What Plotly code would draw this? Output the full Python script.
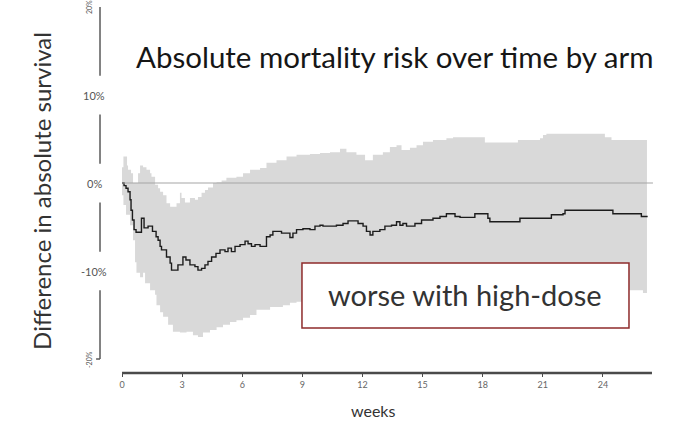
import plotly.graph_objects as go

# Difference in absolute survival (high-dose minus standard), step estimate by week
est_weeks = [0, 0.10, 0.20, 0.30, 0.40, 0.45, 0.52, 0.60, 0.70, 0.97, 1.10, 1.30, 1.52, 1.70,
             1.80, 1.90, 1.97, 2.22, 2.40, 2.47, 2.79, 3.04, 3.19, 3.39, 3.64, 3.79, 3.97,
             4.14, 4.29, 4.47, 4.69, 4.89, 5.14, 5.29, 5.46, 5.64, 5.89, 6.14, 6.29, 6.46,
             6.64, 6.89, 7.21, 7.39, 7.53, 7.96, 8.38, 8.53, 8.71, 9.03, 9.38, 9.63, 9.88,
             10.03, 10.70, 11.03, 11.28, 11.78, 12.03, 12.20, 12.38, 12.52, 12.87, 13.12,
             13.45, 13.70, 13.87, 14.02, 14.20, 14.62, 14.95, 15.52, 15.87, 16.19, 16.62,
             16.87, 17.61, 18.26, 18.36, 19.86, 21.43, 22.01, 22.11, 24.50, 25.92, 26.20]
est_diff = [0, -0.3, -0.6, -1.0, -1.9, -3.1, -4.2, -5.3, -5.6, -4.0, -5.1, -4.9, -5.5, -6.1,
            -6.5, -7.2, -7.6, -8.4, -9.1, -9.9, -9.3, -8.4, -8.75, -9.3, -9.5, -9.9, -9.7,
            -9.3, -8.9, -8.4, -8.0, -7.6, -7.8, -7.4, -7.8, -7.2, -7.0, -6.6, -6.9, -7.2,
            -7.0, -7.2, -6.1, -5.9, -5.5, -5.7, -6.2, -5.7, -5.3, -5.2, -5.3, -4.9, -4.8,
            -4.9, -4.8, -4.6, -4.3, -4.6, -4.9, -5.5, -5.9, -5.5, -5.3, -4.9,
            -4.8, -4.4, -4.8, -4.6, -4.9, -4.6, -4.2, -4.0, -3.8, -3.5, -3.8,
            -3.9, -3.5, -4.0, -4.4, -4.0, -3.6, -3.5, -3.1, -3.5, -3.8, -3.9]

# Upper confidence limit
upper_weeks = [0, 0.07, 0.25, 0.30, 0.45, 0.55, 0.80, 0.90, 1.05, 1.22, 1.40, 1.47, 1.65,
               1.80, 1.90, 2.05, 2.22, 2.40, 2.72, 2.89, 2.97, 3.14, 3.39, 3.64, 3.79, 3.97,
               4.14, 4.29, 4.54, 4.72, 4.97, 5.21, 5.71, 6.04, 6.39, 6.89, 7.21, 7.71, 8.21,
               8.71, 9.38, 9.88, 10.38, 10.88, 11.20, 11.70, 12.13, 12.52, 13.02, 13.37,
               13.70, 13.95, 14.37, 14.70, 15.02, 15.52, 16.19, 16.52, 18.11, 19.76, 20.86,
               21.01, 21.18, 24.10, 24.43, 26.20]
upper_diff = [1.8, 3.0, 2.0, 1.5, 1.1, 0.0, 1.1, 2.0, 1.8, 1.5, 1.1, 0.7, -0.2,
              -0.6, -1.0, -1.4, -2.3, -2.7, -2.3, -1.1, -1.7, -2.2, -1.7, -1.9, -1.6, -1.1,
              -0.8, -0.5, 0.0, 0.1, 0.3, 0.6, 0.7, 1.1, 1.5, 1.7, 2.3, 2.6, 3.0,
              3.2, 3.3, 3.4, 3.5, 3.9, 3.5, 3.2, 2.6, 3.2, 3.5, 4.1,
              4.3, 3.75, 4.0, 4.3, 4.7, 4.9, 5.1, 5.2, 4.6, 4.9, 5.1,
              5.45, 5.6, 5.2, 4.9, 4.9]

# Lower confidence limit
lower_weeks = [0, 0.07, 0.20, 0.40, 0.55, 0.65, 0.72, 0.90, 1.05, 1.15, 1.40, 1.65, 1.72,
               1.90, 2.05, 2.30, 2.54, 2.89, 3.22, 3.54, 3.79, 4.04, 4.39, 4.72, 5.04, 5.39,
               5.71, 6.04, 6.39, 6.71, 7.39, 8.03, 8.38, 8.71, 10.38, 12.87, 15.37, 17.86,
               20.86, 23.85, 25.30, 26.00, 26.20]
lower_diff = [-1.4, -2.5, -3.6, -4.8, -6.5, -9.0, -10.2, -10.7, -10.2, -11.4, -12.2, -12.7, -13.9,
              -14.7, -15.2, -16.1, -16.9, -17.0, -16.9, -17.3, -17.5, -17.0, -16.7, -16.4, -16.1, -15.8,
              -15.6, -15.3, -15.0, -14.4, -14.1, -13.9, -13.6, -13.5, -13.3, -13.3, -13.1, -12.8,
              -12.6, -12.4, -12.2, -12.5, -12.5]

x_ticks = [0, 3, 6, 9, 12, 15, 18, 21, 24]
y_ticks = [20, 10, 0, -10, -20]
y_tick_labels = ["20%", "10%", "0%", "-10%", "-20%"]

title_text = "Absolute mortality risk over time by arm"
y_title = "Difference in absolute survival"
x_title = "weeks"
note_text = "worse with high-dose"

FONT = "Lato"
BAND = "#d9d9d9"

fig = go.Figure()

# Confidence band as two stepped edges filled between them
fig.add_trace(go.Scatter(x=upper_weeks, y=upper_diff, mode="lines", line_shape="hv",
                         line=dict(width=0, color=BAND), hoverinfo="skip", showlegend=False))
fig.add_trace(go.Scatter(x=lower_weeks, y=lower_diff, mode="lines", line_shape="hv",
                         line=dict(width=0, color=BAND), fill="tonexty", fillcolor=BAND,
                         hoverinfo="skip", showlegend=False))

# Reference line at no difference
fig.add_shape(type="line", xref="x", yref="y", x0=0, x1=26.5, y0=0, y1=0,
              line=dict(color="#a6a6a6", width=1.2), layer="above")

# Point estimate
fig.add_trace(go.Scatter(x=est_weeks, y=est_diff, mode="lines", line_shape="hv",
                         line=dict(color="#1c1c1c", width=1.4), showlegend=False))

# Bottom axis line
fig.add_shape(type="line", xref="x", yref="paper", x0=0, x1=26.45, y0=0, y1=0,
              line=dict(color="#4a4a4a", width=2.5))

# Left axis: line broken around each tick label
axis_x = -0.0143
gap = 2.2
for a, b in zip(y_ticks[:-1], y_ticks[1:]):
    top = a - (0 if a == y_ticks[0] else gap)
    bot = b + (0 if b == y_ticks[-1] else gap)
    fig.add_shape(type="line", xref="paper", yref="y", x0=axis_x, x1=axis_x, y0=top, y1=bot,
                  line=dict(color="#5a5a5a", width=1.5))
fig.add_shape(type="line", xref="paper", yref="y", x0=axis_x - 0.007, x1=axis_x,
              y0=y_ticks[-1], y1=y_ticks[-1], line=dict(color="#5a5a5a", width=1.5))

for v, lab in zip(y_ticks, y_tick_labels):
    extreme = v in (y_ticks[0], y_ticks[-1])
    fig.add_annotation(xref="paper", yref="y", x=-0.034 if extreme else -0.025, y=v,
                       text=lab, showarrow=False, textangle=-90 if extreme else 0,
                       font=dict(family=FONT, size=7 if extreme else 11, color="#555555"),
                       xanchor="center", yanchor="middle")

# Annotation box
fig.add_shape(type="rect", xref="paper", yref="paper", x0=0.347, x1=0.932, y0=0.122, y1=0.299,
              fillcolor="white", line=dict(color="#8e2b2b", width=1.5), layer="above")
fig.add_annotation(xref="paper", yref="paper", x=0.639, y=0.212, text=note_text,
                   showarrow=False, font=dict(family=FONT, size=29, color="#333333"),
                   xanchor="center", yanchor="middle")

# Titles
fig.add_annotation(xref="paper", yref="paper", x=0.513, y=0.861, text=title_text,
                   showarrow=False, font=dict(family=FONT, size=29.5, color="#161616"),
                   xanchor="center", yanchor="middle")
fig.add_annotation(xref="paper", yref="paper", x=-0.118, y=0.495, text=y_title,
                   showarrow=False, textangle=-90,
                   font=dict(family=FONT, size=24, color="#333333"),
                   xanchor="center", yanchor="middle")
fig.add_annotation(xref="paper", yref="paper", x=0.474, y=-0.103, text=x_title,
                   showarrow=False, font=dict(family=FONT, size=16, color="#333333"),
                   xanchor="center", yanchor="middle")

fig.update_layout(
    width=677, height=427,
    margin=dict(l=108, r=10, t=5, b=54),
    paper_bgcolor="white", plot_bgcolor="white",
    showlegend=False,
    xaxis=dict(range=[-0.70, 27.2], tickvals=x_ticks, ticktext=[str(t) for t in x_ticks],
               showgrid=False, zeroline=False, showline=False,
               ticks="outside", ticklen=3, tickcolor="#4a4a4a", tickwidth=1,
               tickfont=dict(family=FONT, size=9, color="#666666")),
    yaxis=dict(range=[-21.59, 20.23], showgrid=False, zeroline=False, showline=False,
               showticklabels=False, ticks=""),
)

fig.write_html("out.html")
